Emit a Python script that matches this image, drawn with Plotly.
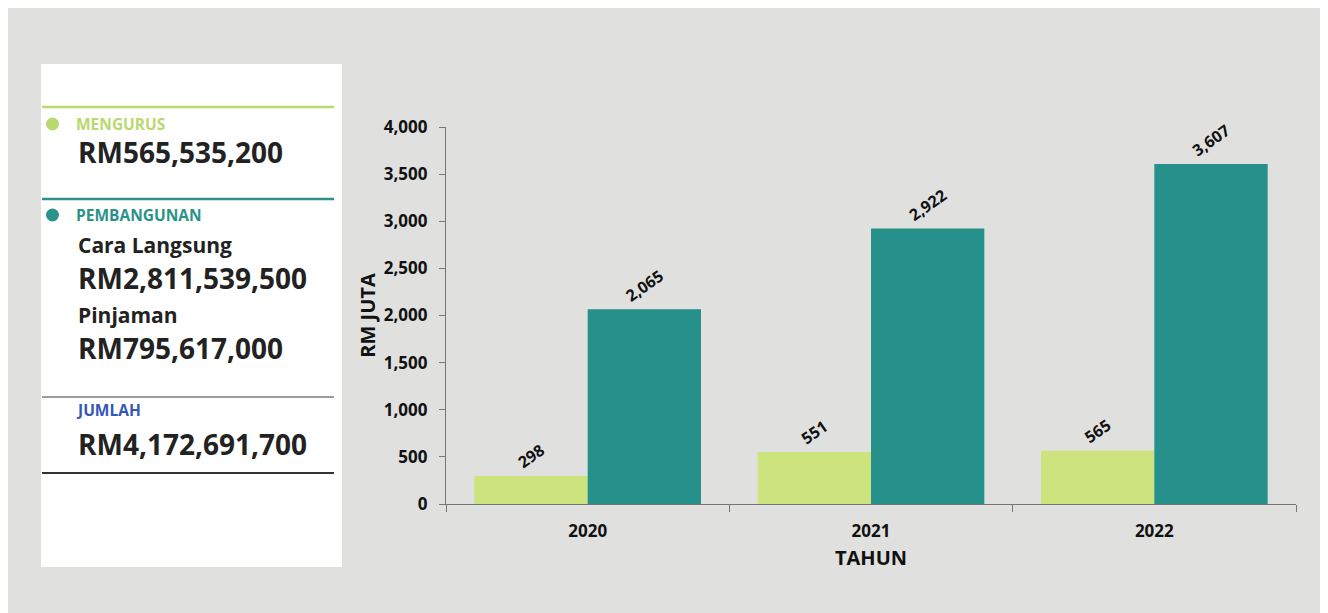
import plotly.graph_objects as go

years = ["2020", "2021", "2022"]
mengurus = [298, 551, 565]
pembangunan = [2065, 2922, 3607]
series_names = ["MENGURUS", "PEMBANGUNAN"]
y_ticks = [0, 500, 1000, 1500, 2000, 2500, 3000, 3500, 4000]

panel_mengurus = "RM565,535,200"
panel_langsung = "RM2,811,539,500"
panel_pinjaman = "RM795,617,000"
panel_jumlah = "RM4,172,691,700"

GREEN = "#cde37e"
TEAL = "#25918a"
FONT = "Open Sans"

OFF = 8  # page body margin
W, H = 1328 - OFF, 613 - OFF
L, R, T, B = 446 - OFF, 32, 127 - OFF, 109
PW, PH = W - L - R, H - T - B


def px(x):
    return (x - OFF - L) / PW


def py(y):
    return (H - B - (y - OFF)) / PH


fig = go.Figure()
fig.add_bar(x=years, y=mengurus, name=series_names[0], marker=dict(color=GREEN, line=dict(width=0)),
            text=[f"<b>{v:,}</b>" for v in mengurus], textposition="outside", textangle=-35,
            textfont=dict(family=FONT, size=16, color="#111"), cliponaxis=False)
fig.add_bar(x=years, y=pembangunan, name=series_names[1], marker=dict(color=TEAL, line=dict(width=0)),
            text=[f"<b>{v:,}</b>" for v in pembangunan], textposition="outside", textangle=-35,
            textfont=dict(family=FONT, size=16, color="#111"), cliponaxis=False)

shapes = []
# white panel
shapes.append(dict(type="rect", xref="paper", yref="paper", x0=px(41), x1=px(342), y0=py(64), y1=py(567),
                   fillcolor="#ffffff", line=dict(width=0), layer="below"))
# separator lines
for yy, col, w in [(107, "#b8d96e", 2.5), (199, "#2a9389", 2.5), (397, "#7a7a7a", 1.5), (473, "#333333", 2)]:
    shapes.append(dict(type="line", xref="paper", yref="paper", x0=px(42), x1=px(334), y0=py(yy), y1=py(yy),
                       line=dict(color=col, width=w)))
# dots
for yy, col in [(124, "#b8d96e"), (215, "#2a9389")]:
    shapes.append(dict(type="circle", xref="paper", yref="paper", x0=px(46), x1=px(59), y0=py(yy - 6.5),
                       y1=py(yy + 6.5), fillcolor=col, line=dict(width=0)))

annotations = []


def txt(x, y, s, size, color):
    annotations.append(dict(xref="paper", yref="paper", x=px(x), y=py(y), text=f"<b>{s}</b>",
                            showarrow=False, xanchor="left", yanchor="middle",
                            font=dict(family=FONT, size=size, color=color)))


txt(74, 124, "MENGURUS", 15.5, "#b8d96e")
txt(76, 152, panel_mengurus, 28, "#222222")
txt(74, 215, "PEMBANGUNAN", 15.5, "#2a9389")
txt(76, 245, "Cara Langsung", 21, "#222222")
txt(76, 278, panel_langsung, 28, "#222222")
txt(76, 315, "Pinjaman", 21, "#222222")
txt(76, 348, panel_pinjaman, 28, "#222222")
txt(74, 410, "JUMLAH", 15.5, "#3457b8")
txt(76, 444, panel_jumlah, 28, "#222222")

fig.update_layout(
    width=W, height=H,
    margin=dict(l=L, r=R, t=T, b=B, pad=0),
    paper_bgcolor="#e0e1df", plot_bgcolor="rgba(0,0,0,0)",
    barmode="group", bargap=0.2, bargroupgap=0,
    showlegend=False,
    shapes=shapes, annotations=annotations,
    font=dict(family=FONT, color="#111"),
)
fig.update_xaxes(
    showgrid=False, showline=True, linecolor="#777", linewidth=1.2,
    ticks="outside", tickson="boundaries", ticklen=7, tickcolor="#777",
    tickfont=dict(family=FONT, size=17, color="#111", weight="bold"),
    ticklabelstandoff=11,
    title=dict(text="<b>TAHUN</b>", font=dict(family=FONT, size=20, color="#111"), standoff=10),
)
fig.update_yaxes(
    range=[0, 4000], tickvals=y_ticks, tickformat=",d",
    showgrid=False, zeroline=False, showline=True, linecolor="#777", linewidth=1.2,
    ticks="outside", ticklen=6, tickcolor="#777",
    tickfont=dict(family=FONT, size=17, color="#111", weight="bold"),
    ticklabelstandoff=8,
    title=dict(text="<b>RM JUTA</b>", font=dict(family=FONT, size=20, color="#111"), standoff=2),
)

fig.write_html("out.html")
